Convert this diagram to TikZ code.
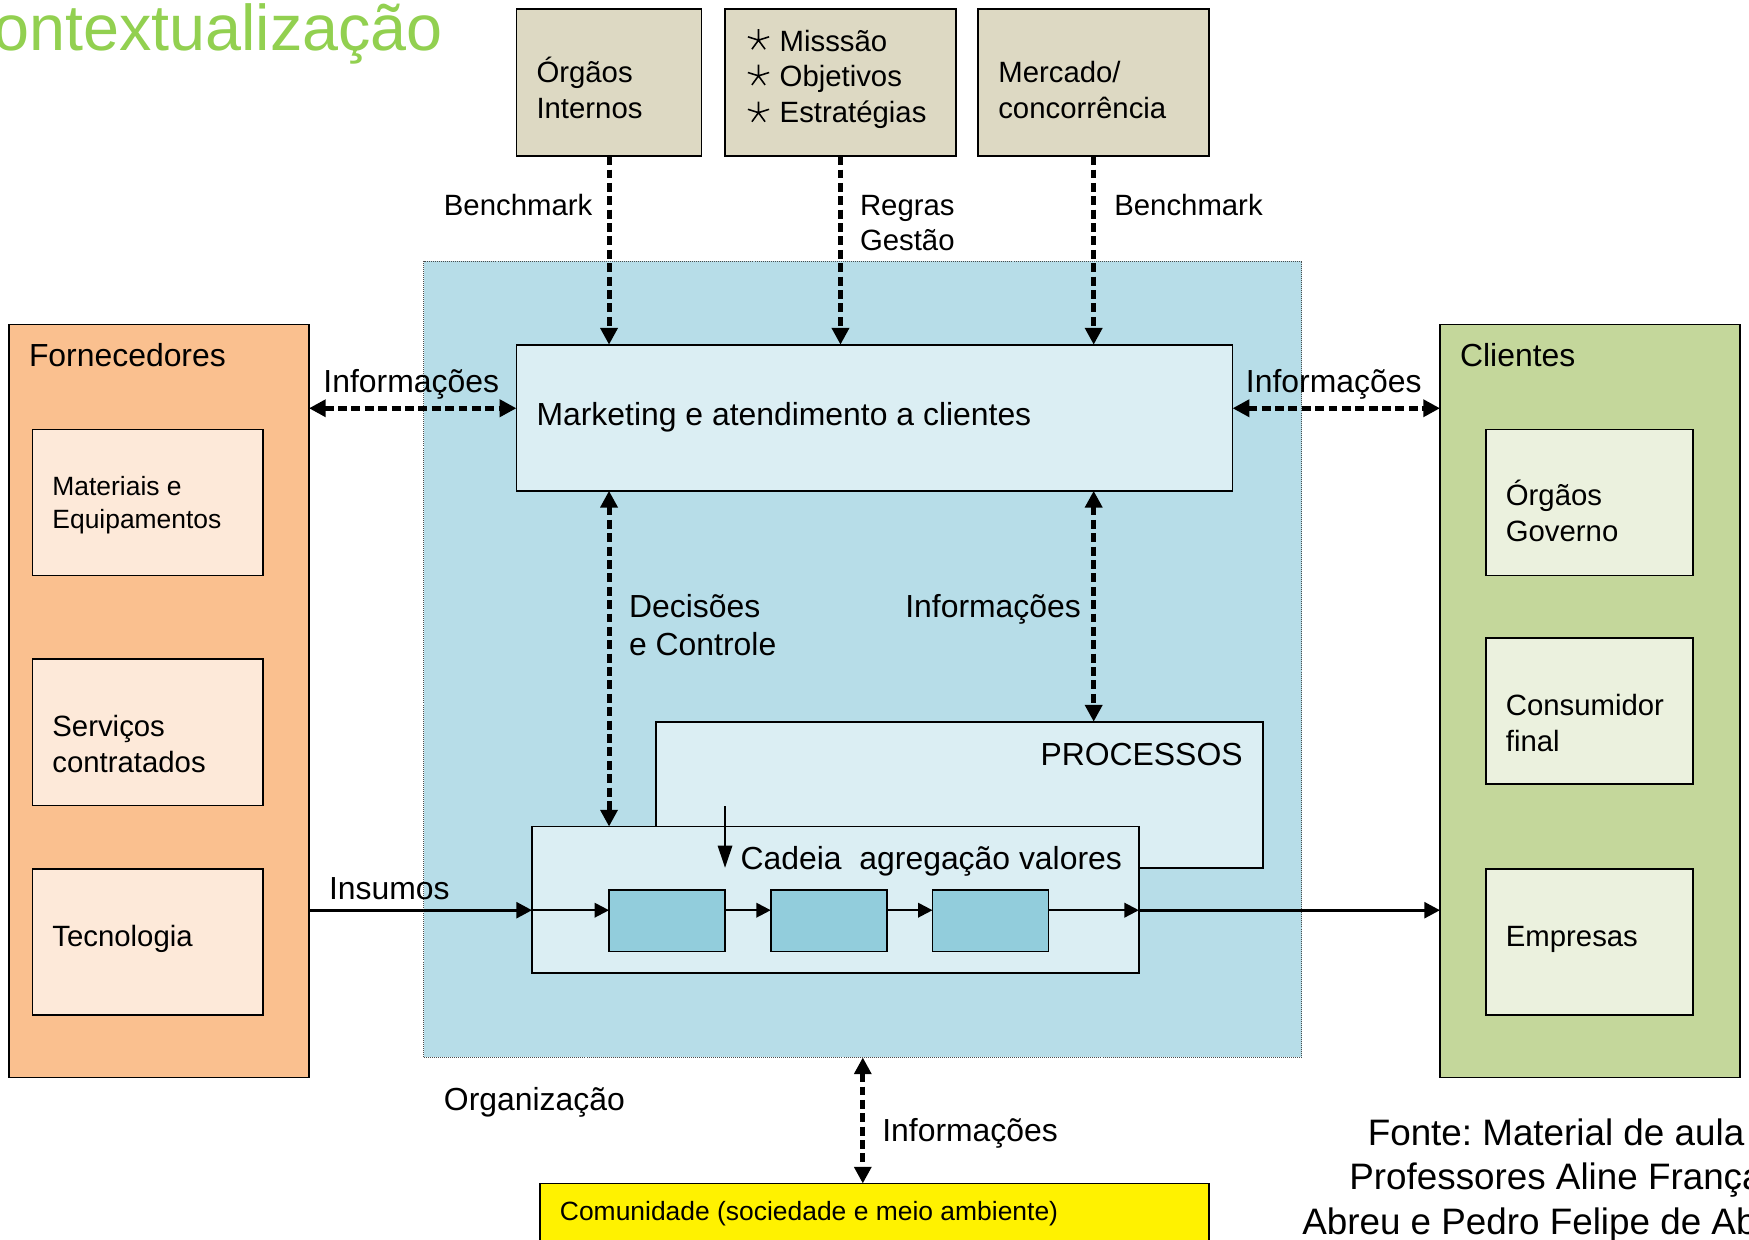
\documentclass[tikz,border=0pt]{standalone}
\usepackage{fontspec}
\setmainfont{Liberation Sans}
\frenchspacing
\usetikzlibrary{arrows.meta}
\definecolor{cbeige}{RGB}{221,217,195}
\definecolor{corg}{RGB}{183,221,232}
\definecolor{clblue}{RGB}{219,238,243}
\definecolor{corange}{RGB}{250,192,143}
\definecolor{clorange}{RGB}{253,233,217}
\definecolor{cgreen}{RGB}{196,215,155}
\definecolor{clgreen}{RGB}{235,241,222}
\definecolor{ccyan}{RGB}{146,205,220}
\definecolor{ctitle}{RGB}{146,208,80}
\newcommand\fA{\fontsize{26.3}{32}\selectfont}
\newcommand\fB{\fontsize{28.6}{34}\selectfont}
\newcommand\fC{\fontsize{23.7}{29}\selectfont}
\newcommand\fD{\fontsize{33}{40}\selectfont}
\newcommand\fT{\fontsize{58}{60}\selectfont}
\begin{document}
\begin{tikzpicture}[x=1pt,y=-1pt,
  box/.style={draw=black, line width=1.5pt, inner sep=0pt, outer sep=0pt, anchor=north west},
  lbl/.style={inner sep=0pt, outer sep=0pt, align=left},
  dd/.style={line width=4.5pt, dash pattern=on 8pt off 4pt, {Triangle[length=15pt,width=15pt]}-{Triangle[length=15pt,width=15pt]}},
  dn/.style={line width=4.5pt, dash pattern=on 8pt off 4pt, -{Triangle[length=15pt,width=15pt]}},
  thk/.style={line width=3pt, -{Triangle[length=14pt,width=14pt]}},
  thn/.style={line width=2pt, -{Triangle[length=13pt,width=13pt]}},
  astk/.pic={\draw[line width=1.4pt] (0,0) -- (0,-10) (0,0) -- (9.5,-3) (0,0) -- (-9.5,-3) (0,0) -- (5.9,8.1) (0,0) -- (-5.9,8.1);}
]
\useasboundingbox (0,0) rectangle (1568,1111);
\clip (0,0) rectangle (1568,1111);

% title
\node[lbl, anchor=base east, text=ctitle, font=\fT] (title) at (397,45) {Contextualização};

% organisation background
\node[box, draw=black!70, line width=0.8pt, densely dotted, fill=corg, minimum width=787pt, minimum height=714pt] (org) at (380,234) {};

% top boxes
\node[box, fill=cbeige, minimum width=166pt, minimum height=132pt] (oi) at (463,8) {};
\node[box, fill=cbeige, minimum width=207pt, minimum height=132pt] (mos) at (650,8) {};
\node[box, fill=cbeige, minimum width=207pt, minimum height=132pt] (mc) at (877,8) {};
\node[lbl, anchor=west, font=\fA] (oit) at (481,79) {Órgãos\\Internos};
\node[lbl, anchor=west, font=\fA] (most) at (699,71) {Misssão\\Objetivos\\Estratégias};
\node[lbl, anchor=west, font=\fA] (mct) at (895,81) {Mercado/\\concorrência};
\pic at (680,36) {astk};
\pic at (680,68) {astk};
\pic at (680,101) {astk};

% marketing
\node[box, fill=clblue, minimum width=642pt, minimum height=131pt] (mkt) at (463,309) {};
\node[lbl, anchor=west, font=\fB] (mktt) at (481,374) {Marketing e atendimento a clientes};

% fornecedores
\node[box, fill=corange, minimum width=269pt, minimum height=675pt] (forn) at (8,291) {};
\node[lbl, anchor=west, font=\fB] (fornt) at (26,318) {Fornecedores};
\node[box, fill=clorange, minimum width=207pt, minimum height=131pt] (mat) at (29,385) {};
\node[box, fill=clorange, minimum width=207pt, minimum height=131pt] (serv) at (29,591) {};
\node[box, fill=clorange, minimum width=207pt, minimum height=131pt] (tec) at (29,779) {};
\node[lbl, anchor=west, font=\fC] (matt) at (47,453) {Materiais e\\Equipamentos};
\node[lbl, anchor=west, font=\fA] (servt) at (47,667) {Serviços\\contratados};
\node[lbl, anchor=west, font=\fA] (tect) at (47,842) {Tecnologia};

% clientes
\node[box, fill=cgreen, minimum width=269pt, minimum height=675pt] (cli) at (1291,291) {};
\node[lbl, anchor=west, font=\fB] (clit) at (1309,318) {Clientes};
\node[box, fill=clgreen, minimum width=186pt, minimum height=131pt] (gov) at (1332,385) {};
\node[box, fill=clgreen, minimum width=186pt, minimum height=131pt] (cons) at (1332,572) {};
\node[box, fill=clgreen, minimum width=186pt, minimum height=131pt] (emp) at (1332,779) {};
\node[lbl, anchor=west, font=\fA] (govt) at (1350,458) {Órgãos\\Governo};
\node[lbl, anchor=west, font=\fA] (const) at (1350,648) {Consumidor\\final};
\node[lbl, anchor=west, font=\fA] (empt) at (1350,842) {Empresas};

% processos & cadeia
\node[box, fill=clblue, minimum width=544pt, minimum height=131pt] (proc) at (588,647) {};
\node[lbl, anchor=east, font=\fB] (proct) at (1114,676) {PROCESSOS};
\node[box, fill=clblue, minimum width=544pt, minimum height=131pt] (cad) at (477,741) {};
\node[lbl, anchor=west, font=\fB] (cadt) at (664,772) {Cadeia\ \ agregação valores};
\node[box, fill=ccyan, minimum width=104pt, minimum height=55pt] (s1) at (546,798) {};
\node[box, fill=ccyan, minimum width=104pt, minimum height=55pt] (s2) at (691,798) {};
\node[box, fill=ccyan, minimum width=104pt, minimum height=55pt] (s3) at (836,798) {};

% comunidade
\node[box, fill=yellow, minimum width=600pt, minimum height=80pt] (com) at (484,1061) {};
\node[lbl, anchor=west, font=\fC] (comt) at (502,1088) {Comunidade (sociedade e meio ambiente)};

% coordinates for connectors
\coordinate (yi) at (0,366);
\coordinate (yc) at (0,816);
\coordinate (pa) at (650,723);
\coordinate (pb) at (650,778);

% top arrows
\draw[dn] (oi.south) -- (oi.south |- mkt.north);
\draw[dn] (mos.south) -- (mos.south |- mkt.north);
\draw[dn] (mc.south) -- (mc.south |- mkt.north);
\node[lbl, anchor=east, font=\fA] (bm1) at (531,184) {Benchmark};
\node[lbl, anchor=west, font=\fA] (rg) at (771,200) {Regras\\Gestão};
\node[lbl, anchor=west, font=\fA] (bm2) at (999,184) {Benchmark};

% side info arrows
\draw[dd] (forn.east |- yi) -- (mkt.west |- yi);
\draw[dd] (mkt.east |- yi) -- (cli.west |- yi);
\node[lbl, anchor=west, font=\fB] (inf1) at (290,345) {Informações};
\node[lbl, anchor=west, font=\fB] (inf2) at (1117,345) {Informações};

% inner vertical arrows
\draw[dd] (oi.south |- mkt.south) -- (oi.south |- cad.north);
\draw[dd] (mc.south |- mkt.south) -- (mc.south |- proc.north);
\node[lbl, anchor=west, font=\fB] (dec) at (564,560) {Decisões\\e Controle};
\node[lbl, anchor=east, font=\fB] (inf3) at (969,546) {Informações};

% chain
\draw[line width=1.5pt, -{Triangle[length=20pt,width=13pt]}] (pa) -- (pb);
\draw[thk] (forn.east |- yc) -- (cad.west |- yc);
\draw[thn] (cad.west |- yc) -- (s1.west |- yc);
\draw[thn] (s1.east |- yc) -- (s2.west |- yc);
\draw[thn] (s2.east |- yc) -- (s3.west |- yc);
\draw[thn] (s3.east |- yc) -- (cad.east |- yc);
\draw[thk] (cad.east |- yc) -- (cli.west |- yc);
\node[lbl, anchor=west, font=\fB] (ins) at (295,797) {Insumos};

% bottom
\node[lbl, anchor=west, font=\fB] (orgt) at (398,988) {Organização};
\draw[dd] (org.south) -- (org.south |- com.north);
\node[lbl, anchor=west, font=\fB] (inf4) at (791,1016) {Informações};

% source
\node[lbl, align=center, anchor=center, font=\fD] (src) at (1395,1058) {Fonte: Material de aula\\Professores Aline França\\Abreu e Pedro Felipe de Abreu};
\end{tikzpicture}
\end{document}
